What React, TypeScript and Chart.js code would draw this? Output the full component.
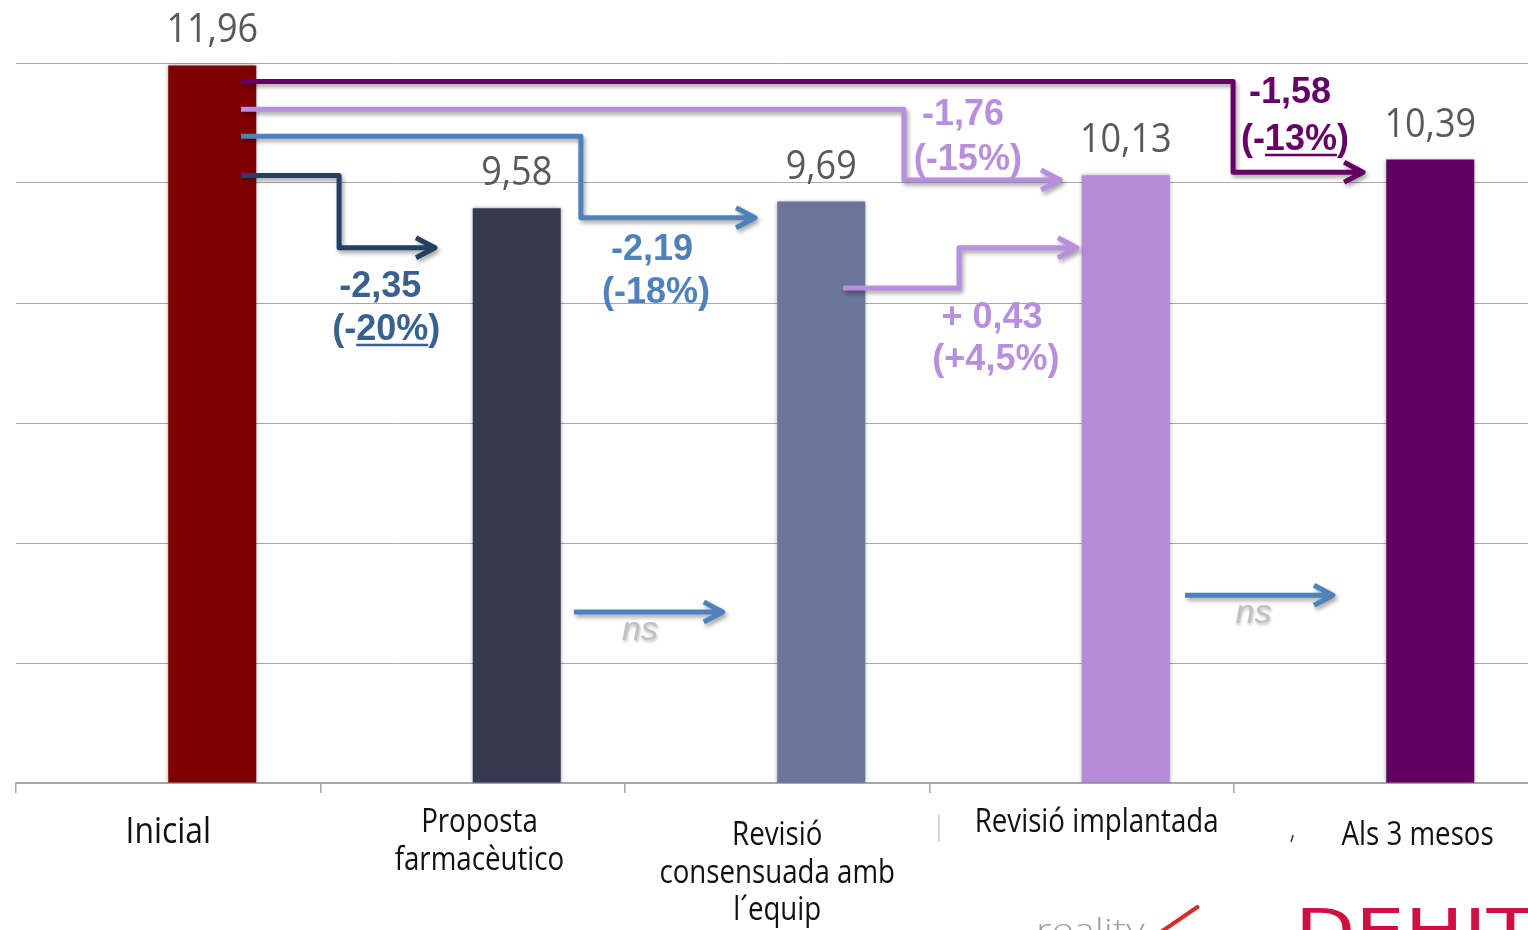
import React, { useEffect, useRef } from "react";
import { Chart, registerables } from "chart.js";

Chart.register(...registerables);

// ---- data ----
const categories: string[][] = [
  ["Inicial"],
  ["Proposta", "farmacèutico"],
  ["Revisió", "consensuada amb", "l´equip"],
  ["Revisió implantada"],
  ["Als 3 mesos"],
];
const values: number[] = [11.96, 9.58, 9.69, 10.13, 10.39];
const valueLabels: string[] = ["11,96", "9,58", "9,69", "10,13", "10,39"];
const barColors: string[] = ["#7f0000", "#353a50", "#6b7599", "#b48bd6", "#620062"];
const yTicks: number[] = [0, 2, 4, 6, 8, 10, 12];

// change annotations (difference vs. baseline / previous step)
const changeValues: string[] = ["-2,35", "-2,19", "-1,76", "+ 0,43", "-1,58"];
const changePercents: string[] = ["(-20%)", "(-18%)", "(-15%)", "(+4,5%)", "(-13%)"];
const underlinedParts: (string | null)[] = ["20%", null, null, null, "13%"];
const nsLabels: string[] = ["ns", "ns"];

// ---- layout of the overlay (category units on x, value units on y) ----
const NAVY_LINE = "#243f62";
const NAVY_TEXT = "#386192";
const BLUE = "#4f81bd";
const LAVENDER = "#b88fdc";
const PURPLE = "#660066";

const connectorLayout: { color: string; pts: number[][] }[] = [
  { color: NAVY_LINE, pts: [[0.239, 10.125], [0.561, 10.125], [0.561, 8.92], [0.876, 8.92]] },
  { color: BLUE, pts: [[0.239, 10.78], [1.355, 10.78], [1.355, 9.42], [1.927, 9.42]] },
  { color: LAVENDER, pts: [[0.239, 11.23], [2.416, 11.23], [2.416, 10.05], [2.929, 10.05]] },
  { color: LAVENDER, pts: [[2.216, 8.25], [2.597, 8.25], [2.597, 8.92], [2.984, 8.92]] },
  { color: PURPLE, pts: [[0.239, 11.69], [3.497, 11.69], [3.497, 10.18], [3.924, 10.18]] },
];
const changeTextLayout: { color: string; u1: number; v1: number; u2: number; v2: number }[] = [
  { color: NAVY_TEXT, u1: 0.696, v1: 8.1, u2: 0.716, v2: 7.383 },
  { color: BLUE, u1: 1.589, v1: 8.717, u2: 1.602, v2: 8.0 },
  { color: LAVENDER, u1: 2.61, v1: 10.967, u2: 2.626, v2: 10.217 },
  { color: LAVENDER, u1: 2.705, v1: 7.583, u2: 2.718, v2: 6.883 },
  { color: PURPLE, u1: 3.684, v1: 11.333, u2: 3.7, v2: 10.55 },
];
const nsLayout: { u0: number; u1: number; v: number; tu: number; tv: number }[] = [
  { u0: 1.332, u1: 1.821, v: 2.85, tu: 1.549, tv: 2.383 },
  { u0: 3.339, u1: 3.825, v: 3.13, tu: 3.564, tv: 2.667 },
];
// category label placement: centre (category units), font size, baselines below the axis (px)
const categoryLabelLayout: { u: number; size: number; baselines: number[] }[] = [
  { u: 0.0, size: 36, baselines: [60] },
  { u: 1.022, size: 32, baselines: [49, 87] },
  { u: 2.0, size: 32, baselines: [62, 100, 137] },
  { u: 3.049, size: 32, baselines: [49] },
  { u: 4.103, size: 32, baselines: [62] },
];

function drawText(
  ctx: CanvasRenderingContext2D,
  text: string,
  x: number,
  y: number,
  font: string,
  color: string,
  scaleX = 1,
  align: CanvasTextAlign = "center"
) {
  ctx.save();
  ctx.font = font;
  ctx.fillStyle = color;
  ctx.textAlign = align;
  ctx.textBaseline = "alphabetic";
  ctx.translate(x, y);
  ctx.scale(scaleX, 1);
  ctx.fillText(text, 0, 0);
  ctx.restore();
}

function strokeArrow(ctx: CanvasRenderingContext2D, pts: number[][], color: string) {
  ctx.save();
  ctx.strokeStyle = color;
  ctx.lineWidth = 5;
  ctx.lineJoin = "round";
  ctx.lineCap = "butt";
  ctx.shadowColor = "rgba(0,0,0,0.35)";
  ctx.shadowBlur = 4;
  ctx.shadowOffsetX = 2;
  ctx.shadowOffsetY = 3;
  ctx.beginPath();
  ctx.moveTo(pts[0][0], pts[0][1]);
  for (let i = 1; i < pts.length; i++) ctx.lineTo(pts[i][0], pts[i][1]);
  const [tx, ty] = pts[pts.length - 1];
  ctx.moveTo(tx - 19, ty - 10);
  ctx.lineTo(tx, ty);
  ctx.lineTo(tx - 19, ty + 10);
  ctx.stroke();
  ctx.restore();
}

const overlayPlugin = {
  id: "overlay",
  beforeDatasetsDraw(chart: any) {
    const ctx = chart.ctx as CanvasRenderingContext2D;
    ctx.save();
    ctx.shadowColor = "rgba(0,0,0,0.35)";
    ctx.shadowBlur = 4;
  },
  afterDatasetsDraw(chart: any) {
    chart.ctx.restore();
  },
  afterDraw(chart: any) {
    const ctx = chart.ctx as CanvasRenderingContext2D;
    const xs = chart.scales.x;
    const ys = chart.scales.y;
    const x0 = xs.getPixelForValue(0);
    const cw = xs.getPixelForValue(1) - x0;
    const X = (u: number) => x0 + u * cw;
    const Y = (v: number) => ys.getPixelForValue(v);
    const base = ys.getPixelForValue(0);

    // value labels above the bars
    const meta = chart.getDatasetMeta(1);
    meta.data.forEach((bar: any, i: number) => {
      drawText(ctx, valueLabels[i], bar.x, bar.y - 23, '40px "Open Sans"', "#595959", 0.9);
    });

    // connectors
    connectorLayout.forEach((c) => {
      strokeArrow(ctx, c.pts.map(([u, v]) => [X(u), Y(v)]), c.color);
    });
    nsLayout.forEach((n) => {
      strokeArrow(ctx, [[X(n.u0), Y(n.v)], [X(n.u1), Y(n.v)]], BLUE);
    });

    // change labels
    const boldFont = 'bold 36px "Liberation Sans"';
    changeTextLayout.forEach((t, i) => {
      drawText(ctx, changeValues[i], X(t.u1), Y(t.v1), boldFont, t.color);
      const pct = changePercents[i];
      const px = X(t.u2);
      const py = Y(t.v2);
      drawText(ctx, pct, px, py, boldFont, t.color);
      const part = underlinedParts[i];
      if (part) {
        ctx.save();
        ctx.font = boldFont;
        const w = ctx.measureText(pct).width;
        const idx = pct.indexOf(part);
        const pre = ctx.measureText(pct.slice(0, idx)).width;
        const pw = ctx.measureText(part).width;
        const sx = px - w / 2 + pre;
        ctx.strokeStyle = t.color;
        ctx.lineWidth = 2.5;
        ctx.beginPath();
        ctx.moveTo(sx, py + 5);
        ctx.lineTo(sx + pw, py + 5);
        ctx.stroke();
        ctx.restore();
      }
    });

    // "ns" markers
    nsLayout.forEach((n, i) => {
      ctx.save();
      ctx.shadowColor = "rgba(0,0,0,0.25)";
      ctx.shadowBlur = 3;
      ctx.shadowOffsetX = 1;
      ctx.shadowOffsetY = 2;
      drawText(ctx, nsLabels[i], X(n.tu), Y(n.tv), 'italic 34px "Liberation Sans"', "#c0c0c0");
      ctx.restore();
    });

    // category labels
    chart.data.labels.forEach((lines: string[], i: number) => {
      const l = categoryLabelLayout[i];
      lines.forEach((line, j) => {
        drawText(ctx, line, X(l.u), base + l.baselines[j], `${l.size}px "Open Sans"`, "#111111", l.size > 33 ? 0.885 : 0.865);
      });
    });

    // small leftover strokes of the slide's text frames
    ctx.save();
    ctx.strokeStyle = "#c4c4c4";
    ctx.lineWidth = 1.5;
    ctx.beginPath();
    ctx.moveTo(X(2.531), base + 32);
    ctx.lineTo(X(2.531), base + 59);
    ctx.stroke();
    ctx.strokeStyle = "#333";
    ctx.lineWidth = 1.5;
    ctx.beginPath();
    ctx.moveTo(X(3.694) - 2, base + 59);
    ctx.lineTo(X(3.694), base + 52);
    ctx.stroke();
    ctx.restore();

    // partly visible logos at the bottom edge
    drawText(ctx, "reality", X(2.85), base + 158, '300 32px "Open Sans"', "#a0a0a0", 1.25, "left");
    ctx.save();
    ctx.strokeStyle = "#d62b2b";
    ctx.lineWidth = 4;
    ctx.lineCap = "round";
    ctx.beginPath();
    ctx.moveTo(X(3.26), base + 149);
    ctx.lineTo(X(3.38), base + 124);
    ctx.stroke();
    ctx.restore();
    drawText(ctx, "DEHIT", X(3.7), base + 168, '58px "Liberation Sans Narrow", "DejaVu Sans Condensed"', "#d01040", 1.5, "left");
  },
};

export default function App() {
  const canvasRef = useRef<HTMLCanvasElement | null>(null);

  useEffect(() => {
    if (!canvasRef.current) return;
    const chart = new Chart(canvasRef.current, {
      type: "bar",
      data: {
        labels: categories as any,
        datasets: [
          { label: "", data: values.map(() => null) as any, backgroundColor: "transparent" },
          { label: "valor", data: values, backgroundColor: barColors, borderWidth: 0 },
        ],
      },
      options: {
        responsive: true,
        maintainAspectRatio: false,
        animation: false,
        categoryPercentage: 0.578,
        barPercentage: 1,
        layout: { padding: { left: 16, right: 6.5, top: 63, bottom: 0 } },
        plugins: { legend: { display: false }, tooltip: { enabled: false } },
        scales: {
          x: {
            offset: true,
            grid: { offset: true, drawOnChartArea: false, drawTicks: true, tickLength: 10, color: "#a6a6a6", lineWidth: 1.5 },
            border: { display: true, color: "#a6a6a6", width: 1.5 },
            ticks: { display: false },
            afterFit: (s: any) => {
              s.height = 147;
            },
          },
          y: {
            min: yTicks[0],
            max: yTicks[yTicks.length - 1],
            ticks: { display: false, stepSize: yTicks[1] - yTicks[0] },
            grid: { color: "#a8a8a8", lineWidth: 1, drawTicks: false },
            border: { display: false },
            afterFit: (s: any) => {
              s.width = 0;
            },
          },
        },
      } as any,
      plugins: [overlayPlugin],
    });
    return () => chart.destroy();
  }, []);

  return (
    <div style={{ position: "fixed", left: 0, top: 0, width: 1528, height: 930, overflow: "hidden", background: "#ffffff" }}>
      <div style={{ position: "relative", width: 1545, height: 930 }}>
        <canvas ref={canvasRef} />
      </div>
    </div>
  );
}
